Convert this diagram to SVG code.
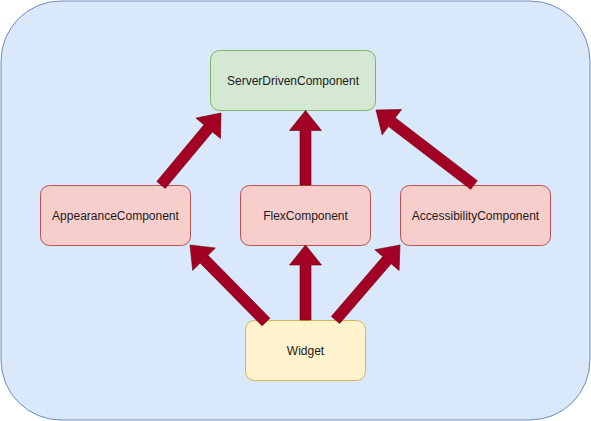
<svg xmlns="http://www.w3.org/2000/svg" width="591" height="421" viewBox="0 0 591 421">
<style>
.bg{fill:#dae8fc;stroke:#6c8ebf;stroke-width:1}
.green{fill:#d5e8d4;stroke:#82b366;stroke-width:1}
.red{fill:#f8cecc;stroke:#b85450;stroke-width:1}
.yellow{fill:#fff2cc;stroke:#d6b656;stroke-width:1}
.lbl{font-family:"Liberation Sans",Arial,sans-serif;font-size:12px;fill:#1a1a1a;text-anchor:middle;dominant-baseline:central}
.arr{fill:#a20025;stroke:#6f0000;stroke-width:0.6;stroke-linejoin:miter}
</style>
<rect class="bg" x="1" y="1" width="589" height="419" rx="60" ry="60"/>
<g id="server-driven-component">
<rect class="green" x="210.5" y="50.5" width="165" height="60" rx="9" ry="9"/>
<text class="lbl" x="293" y="80.5">ServerDrivenComponent</text>
</g>
<g id="appearance-component">
<rect class="red" x="40.5" y="185.5" width="150" height="60" rx="9" ry="9"/>
<text class="lbl" x="115.5" y="215.5">AppearanceComponent</text>
</g>
<g id="flex-component">
<rect class="red" x="240.5" y="185.5" width="130" height="60" rx="9" ry="9"/>
<text class="lbl" x="305.5" y="215.5">FlexComponent</text>
</g>
<g id="accessibility-component">
<rect class="red" x="400.5" y="185.5" width="150" height="60" rx="9" ry="9"/>
<text class="lbl" x="475.5" y="215.5">AccessibilityComponent</text>
</g>
<g id="widget">
<rect class="yellow" x="245.5" y="320.5" width="120" height="60" rx="9" ry="9"/>
<text class="lbl" x="305.5" y="350.5">Widget</text>
</g>
<g id="connectors">
<polygon class="arr" points="165.23,188.52 212.43,131.88 220.49,138.60 221,113 195.91,118.12 203.98,124.84 156.78,181.48"/>
<polygon class="arr" points="311,185 311,130.5 321.5,130.5 305.5,110.5 289.5,130.5 300,130.5 300,185"/>
<polygon class="arr" points="477.34,180.63 395.22,117.79 401.60,109.45 376,110 382.16,134.86 388.54,126.52 470.66,189.37"/>
<polygon class="arr" points="269.91,318.14 207.96,255.37 215.44,247.99 190,245 192.66,270.47 200.14,263.10 262.09,325.86"/>
<polygon class="arr" points="311,320 311,265 321.5,265 305.5,245 289.5,265 300,265 300,320"/>
<polygon class="arr" points="339.67,323.59 391.13,263.75 399.09,270.59 400,245 374.83,249.73 382.79,256.57 331.33,316.41"/>
</g>
</svg>
